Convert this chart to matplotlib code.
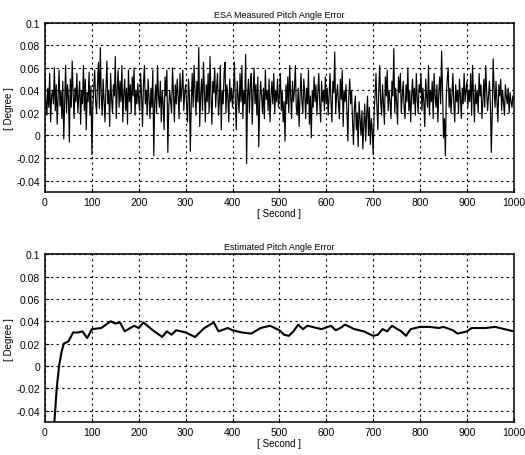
import numpy as np
import matplotlib.pyplot as plt

# measured pitch angle error, sampled every 2 s (millidegrees)
meas_mdeg = [
    52, 30, 18, 42, 25, 55, 12, 35, 40, 28, 60, 22, 45, 10, 33, 58, 26, 40, 15, 48,
    -3, 30, 62, 20, 45, 35, -6, 50, 25, 66, 38, 15, 42, 30, 55, 20, 35, 48, 10, 40,
    28, 62, 22, 50, 5, 38, 30, 56, 18, 44,
    -17, 25, 42, 58, 30, 20, 45, 65, 24, 78, 35, 18, 50, 30, 12, 42, 66, 28, 40, 8,
    55, 32, 20, 45, 35, 70, 15, 40, 58, 25, 48, 30, 62, 12, 36, 50, 22, 42, 10, 58,
    30, 45, 20, 52, 35, 60, 18, 40, 28, 46,
    30, 22, 55, 35, 8, 45, 62, 28, 40, 18, 50, 32, 15, 42, 25, 58, -18, 30, 45, 20,
    62, 35, 25, 48, 12, 40, 28, 5, 52, 35, 58, -15, 25, 40, 30, 20, 60, 38, 12, 45,
    28, 50, 35, 15, 55, 30, 42, 58, 22, 38,
    45, 28, 12, 50, 35, -14, 30, 55, 25, 62, 40, 18, 48, 30, 78, 8, 35, 50, 22, 65,
    40, 12, 45, 30, 55, 20, 70, 35, 10, 48, 38, 60, 25, 42, 55, 18, 30, 62, 5, 40,
    28, 55, 65, 20, 45, 35, 12, 50, 30, 42,
    25, 40, 65, 30, 5, 48, 35, 20, 55, 30, 62, 15, 40, 28, 72, -25, 35, 50, 20, 45,
    55, 10, 38, 60, 28, 45, 18, 52, -10, 30, 48, 35, 20, 42, 15, 58, 32, 40, 22, 50,
    12, 35, 48, 28, 55, 20, 40, 30, 50, 25,
    35, 55, 22, 40, 12, 30, -5, 45, 28, 52, 20, 62, 35, 15, 48, 30, 40, 62, 25, 18,
    42, 8, 35, 55, 30, 20, 50, 38, 15, 42, 28, 58, 10, 35, -2, 40, 25, 52, 30, 45,
    18, 38, 55, 28, 12, 48, 30, 40, 22, 52,
    28, 42, 18, 35, 55, 30, 12, 48, 38, 74, 20, 35, 45, 28, 15, 50, 32, 58, 8, 40,
    30, 45, 22, -5, 35, 50, 28, 40, 12, -8, 25, 35, 5, 20, -10, 30, 15, 0, 22, -12,
    10, 28, -5, 18, 35, 0, 25, -8, 15, 5,
    -17, 20, 35, 55, 25, 5, 42, 62, 30, 18, 45, 28, 10, 52, 35, 58, 22, 40, 30, 15,
    48, 35, 77, 20, 42, 30, 10, 52, 38, 55, 20, 35, 48, 25, 15, 45, 30, 60, 22, 40,
    12, 35, 50, 28, 42, 18, 55, 32, 20, 45,
    38, 55, 22, 42, 30, 8, 50, 35, 25, 62, 18, 40, 30, 48, 15, 55, 35, 25, 45, 12,
    38, 52, 28, 75, 40, -2, 15, -18, 35, 50, 60, 25, 42, 20, 35, 55, 28, 12, 45, 30,
    40, 20, 50, 35, 15, 42, 28, 55, 30, 40,
    48, 25, 40, 30, 55, 18, 62, 35, 12, 45, 28, 40, 20, 55, 35, 45, 15, 30, 50, 25,
    62, 40, 22, 35, 48, 28, -15, 20, 68, 40, 25, 48, 30, 12, 45, 35, 50, 22, 40, 30,
    18, 45, 35, 28, 42, 20, 38, 30, 25, 35,
    32,
]
meas_t = np.arange(len(meas_mdeg)) * 2

# estimated pitch angle error (degree)
est_t = [20, 25, 30, 35, 40, 50, 60, 70, 80, 90, 100, 120, 140, 150, 160, 170, 190, 200, 210,
         230, 240, 250, 260, 270, 280, 300, 320, 330, 340, 360, 370, 390, 400, 420, 440, 460,
         480, 500, 510, 520, 530, 540, 550, 560, 580, 590, 610, 620, 630, 640, 660, 680, 700,
         710, 720, 730, 740, 760, 770, 780, 800, 820, 840, 850, 870, 880, 900, 910, 940, 960,
         980, 1000]
est_deg = [-0.05, -0.02, 0.0, 0.012, 0.02, 0.022, 0.030, 0.030, 0.031, 0.025, 0.033, 0.034,
           0.040, 0.038, 0.039, 0.031, 0.036, 0.034, 0.039, 0.032, 0.029, 0.026, 0.031, 0.028,
           0.032, 0.030, 0.026, 0.030, 0.034, 0.039, 0.031, 0.034, 0.032, 0.030, 0.029, 0.034,
           0.036, 0.032, 0.028, 0.027, 0.031, 0.037, 0.033, 0.036, 0.034, 0.033, 0.036, 0.032,
           0.034, 0.037, 0.033, 0.031, 0.027, 0.028, 0.033, 0.031, 0.036, 0.031, 0.027, 0.033,
           0.035, 0.035, 0.034, 0.035, 0.032, 0.029, 0.031, 0.034, 0.034, 0.035, 0.033, 0.031]

y_ticks = [-0.04, -0.02, 0, 0.02, 0.04, 0.06, 0.08, 0.1]
y_labels = ["-0.04", "-0.02", "0", "0.02", "0.04", "0.06", "0.08", "0.1"]
x_ticks = list(range(0, 1001, 100))

plt.rcParams['font.family'] = ['Liberation Sans', 'DejaVu Sans']

fig = plt.figure(figsize=(5.25, 4.56), dpi=100)
ax1 = fig.add_axes([0.0857, 0.577, 0.893, 0.371])
ax2 = fig.add_axes([0.0857, 0.0724, 0.893, 0.368])

ax1.plot(meas_t, np.array(meas_mdeg) / 1000.0, color='black', lw=0.85)
ax2.plot(est_t, est_deg, color='black', lw=1.5)

for ax, title in [(ax1, "ESA Measured Pitch Angle Error"), (ax2, "Estimated Pitch Angle Error")]:
    ax.set_xlim(0, 1000)
    ax.set_ylim(-0.05, 0.1)
    ax.set_xticks(x_ticks)
    ax.set_yticks(y_ticks)
    ax.set_yticklabels(y_labels)
    ax.tick_params(direction='in', labelsize=7.5, length=3)
    ax.grid(True, color='black', linestyle=(0, (2, 3)), lw=0.8)
    ax.set_title(title, fontsize=6.5, pad=4)
    ax.set_xlabel("[ Second ]", fontsize=7, labelpad=1)
    ax.set_ylabel("[ Degree ]", fontsize=7, labelpad=2)
    for s in ax.spines.values():
        s.set_linewidth(1.1)

fig.savefig("out.png", dpi=100)
